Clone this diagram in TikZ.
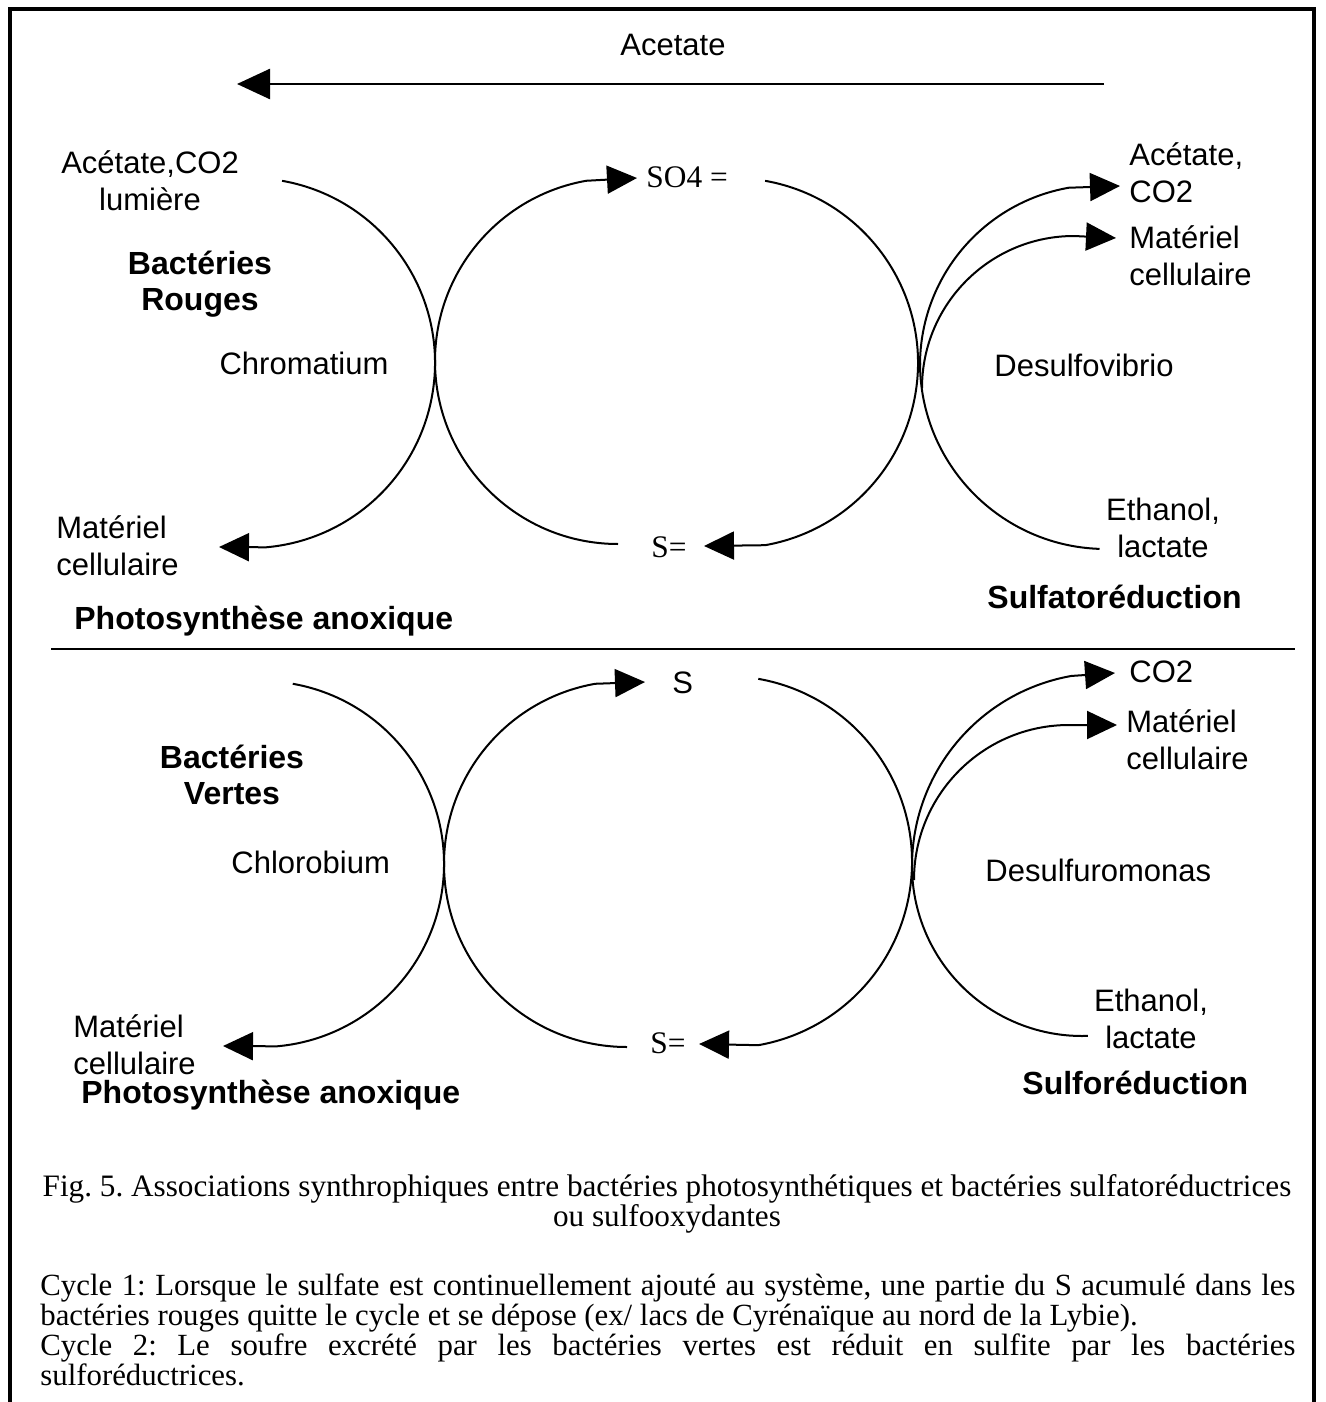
\documentclass[tikz,border=0pt]{standalone}
\usepackage{fontspec}
\setmainfont{Liberation Serif}
\setsansfont{Liberation Sans}
\usetikzlibrary{arrows.meta}
\frenchspacing
\begin{document}
\begin{tikzpicture}[x=0.5pt,y=0.5pt,
  lab/.style={font=\sffamily\fontsize{15.5}{18.5}\selectfont, inner sep=0pt},
  labb/.style={font=\sffamily\bfseries\fontsize{16}{18}\selectfont, inner sep=0pt},
  ser/.style={font=\rmfamily\fontsize{15.7}{17.5}\selectfont, inner sep=0pt},
  curve/.style={line width=1pt},
  tipline/.style={line width=1pt,-{Triangle[length=15pt,width=14pt]}},
  bigtip/.style={line width=1.3pt,-{Triangle[length=16.5pt,width=15pt]}},
  frameline/.style={line width=1.6pt},
]
\useasboundingbox (0,0) rectangle (1326,-1402);
% frame
\draw[frameline] (10,-1402) -- (10,-9) -- (1314,-9) -- (1314,-1402);
% separator
\coordinate (sepL) at (51,-649);
\coordinate (sepR) at (1295,-649);
\draw[line width=1.2pt] (sepL) -- (sepR);

% ---------- upper part ----------
\node[lab] (acet) at (673,-45) {Acetate};
\coordinate (acetR) at (1104,-84);
\coordinate (acetL) at (237,-84);
\draw[bigtip] (acetR) -- (acetL);

\node[lab, align=center] (acco2) at (150,-181) {Acétate,CO2\\lumière};
\node[labb, align=center] (rouges) at (200,-284) {Bactéries\\Rouges};
\node[lab] (chrom) at (304,-363) {Chromatium};
\node[lab, align=left, anchor=west] (mat1) at (56,-546) {Matériel\\cellulaire};
\node[labb, anchor=west] (photo1) at (74,-621) {Photosynthèse anoxique};
\node[ser, anchor=west] (so4) at (646,-177) {SO4 =};
\node[ser, anchor=west] (s1) at (651,-547) {S=};
\node[lab, align=left, anchor=west] (acco2r) at (1129,-173) {Acétate,\\CO2};
\node[lab, align=left, anchor=west] (mat2) at (1129,-256) {Matériel\\cellulaire};
\node[lab, anchor=west] (desv) at (994,-365) {Desulfovibrio};
\node[lab, align=center] (eth1) at (1163,-528) {Ethanol,\\lactate};
\node[labb, anchor=west] (sulfa) at (987,-597) {Sulfatoréduction};

% arc centres (upper)
\coordinate (C1) at (250,-363);
\coordinate (C2) at (618,-361);
\coordinate (C3) at (733,-363);
\coordinate (C4) at (1106,-363);
\coordinate (C5) at (1100,-365);
\coordinate (C6) at (1074,-388);
% arrow tips (upper)
\coordinate (T1) at (219,-547);
\coordinate (T2) at (637,-178);
\coordinate (T3) at (704,-546);
\coordinate (T5) at (1120,-186);
\coordinate (T6) at (1116,-238);

\draw[tipline] (C1) ++(80:185) arc[start angle=80, end angle=-85, radius=185] -- (T1);
\draw[tipline] (C2) ++(270:183) arc[start angle=270, end angle=100, radius=183] -- (T2);
\draw[tipline] (C3) ++(80:185) arc[start angle=80, end angle=-80, radius=185] -- (T3);
\draw[curve] (C4) ++(180:186) arc[start angle=180, end angle=268, radius=186];
\draw[tipline] (C5) ++(180:180) arc[start angle=180, end angle=100, radius=180] -- (T5);
\draw[tipline] (C6) ++(180:152) arc[start angle=180, end angle=90, radius=152] -- (T6);

% ---------- lower part ----------
\node[lab, anchor=west] (s2) at (672,-683) {S};
\node[labb, align=center] (vertes) at (232,-775) {Bactéries\\Vertes};
\node[lab, anchor=west] (chlo) at (231,-862) {Chlorobium};
\node[lab, align=left, anchor=west] (mat3) at (73,-1045) {Matériel\\cellulaire};
\node[labb, anchor=west] (photo2) at (81,-1095) {Photosynthèse anoxique};
\node[ser, anchor=west] (s3) at (650,-1043) {S=};
\node[lab, anchor=west] (co2) at (1129,-672) {CO2};
\node[lab, align=left, anchor=west] (mat4) at (1126,-740) {Matériel\\cellulaire};
\node[lab, anchor=west] (desm) at (985,-870) {Desulfuromonas};
\node[lab, align=center] (eth2) at (1151,-1019) {Ethanol,\\lactate};
\node[labb, anchor=west] (sulfo) at (1022,-1083) {Sulforéduction};

\coordinate (L1) at (261,-864);
\coordinate (L2) at (627,-864);
\coordinate (L3) at (726,-862);
\coordinate (L4) at (1082,-866);
\coordinate (L5) at (1105,-866);
\coordinate (L6) at (1069,-880);
\coordinate (U1) at (223,-1046);
\coordinate (U2) at (645,-682);
\coordinate (U3) at (699,-1044);
\coordinate (U5) at (1115,-673);
\coordinate (U6) at (1117,-725);

\draw[tipline] (L1) ++(80:183) arc[start angle=80, end angle=-85, radius=183] -- (U1);
\draw[tipline] (L2) ++(270:183) arc[start angle=270, end angle=100, radius=183] -- (U2);
\draw[tipline] (L3) ++(80:186) arc[start angle=80, end angle=-80, radius=186] -- (U3);
\draw[curve] (L4) ++(180:170) arc[start angle=180, end angle=272, radius=170];
\draw[tipline] (L5) ++(180:193) arc[start angle=180, end angle=100, radius=193] -- (U5);
\draw[tipline] (L6) ++(180:155) arc[start angle=180, end angle=90, radius=155] -- (U6);

% ---------- caption ----------
\node[font=\rmfamily\fontsize{15.6}{15}\selectfont, align=center, inner sep=0pt] (cap) at (667,-1204)
  {Fig. 5. Associations synthrophiques entre bactéries photosynthétiques et bactéries sulfatoréductrices\\ou sulfooxydantes};
\node[anchor=base west, inner sep=0pt] (txt) at (40,-1295)
  {\parbox[t]{627.5pt}{\fontsize{15.4}{14}\selectfont\frenchspacing\hyphenpenalty=10000
  Cycle 1: Lorsque le sulfate est continuellement ajouté au système, une partie du S acumulé dans les\linebreak
  bactéries rouges quitte le cycle et se dépose (ex/ lacs de Cyrénaïque au nord de la Lybie).\par
  Cycle 2: Le soufre excrété par les bactéries vertes est réduit en sulfite par les bactéries\linebreak
  sulforéductrices.\par}};
\end{tikzpicture}
\end{document}
